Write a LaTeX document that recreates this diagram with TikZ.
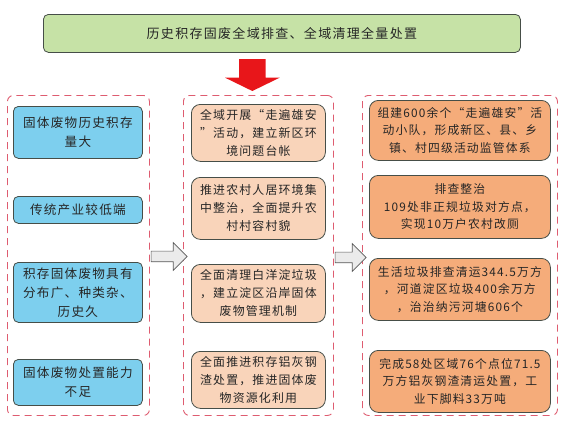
\documentclass[tikz,border=0pt]{standalone}
\usepackage{fontspec}
\setmainfont{Noto Sans CJK SC}[LetterSpace=10]
\usetikzlibrary{shapes.arrows, calc}

\definecolor{topgreen}{RGB}{198,226,166}
\definecolor{causeblue}{RGB}{125,207,238}
\definecolor{measurepeach}{RGB}{249,212,186}
\definecolor{resultorange}{RGB}{245,172,122}
\definecolor{framered}{RGB}{222,92,112}
\definecolor{arrowred}{RGB}{232,22,26}
\definecolor{boxline}{RGB}{70,78,72}

\begin{document}
\begin{tikzpicture}[
    x=1pt, y=-1pt,
    box/.style={draw=boxline, line width=0.8pt, anchor=north west, align=center, inner sep=0.5pt, text=black!85},
    headline/.style={box, fill=topgreen, rounded corners=5pt, minimum width=477pt, minimum height=38pt, font=\fontsize{13}{18}\selectfont},
    cause/.style={box, fill=causeblue, rounded corners=5pt, minimum width=129pt, text width=127pt, font=\fontsize{12.6}{19}\selectfont},
    measure/.style={box, fill=measurepeach, rounded corners=9pt, minimum width=134pt, text width=133pt, font=\fontsize{11.9}{18}\selectfont},
    result/.style={box, fill=resultorange, rounded corners=9pt, minimum width=181pt, text width=179pt, font=\fontsize{11.8}{17.5}\selectfont},
    frame/.style={draw=framered, dash pattern=on 7pt off 5pt, line width=0.9pt, rounded corners=6pt, anchor=north west, minimum height=320pt, inner sep=0pt},
    red arrow/.style={single arrow, shape border rotate=270, fill=arrowred, inner xsep=13pt, inner ysep=0pt, minimum width=54pt, single arrow head extend=14pt, single arrow tip angle=128, minimum height=32pt},
    hollow arrow/.style={single arrow, draw=black!65, fill=black!8, line width=0.7pt, inner xsep=0pt, inner ysep=5pt, single arrow head extend=8.5pt, single arrow tip angle=90}
]
\useasboundingbox (0,0) rectangle (563,423);

% --- Headline ---
\node[headline] (top) at (43,14) {历史积存固废全域排查、全域清理全量处置};

% --- Dashed frames of the three columns ---
\node[frame, minimum width=142pt] (lframe) at (7,95) {};
\node[frame, minimum width=150pt] (mframe) at (183,95) {};
\node[frame, minimum width=195pt] (rframe) at (362,95) {};

% --- Causes ---
\node[cause, minimum height=52pt] (l1) at (13,106) {固体废物历史积存\\量大};
\node[cause, minimum height=27pt] (l2) at (13,196) {传统产业较低端};
\node[cause, minimum height=60pt] (l3) at (13,262) {积存固体废物具有\\分布广、种类杂、\\历史久};
\node[cause, minimum height=46pt] (l4) at (13,359) {固体废物处置能力\\不足};

% --- Measures ---
\node[measure, minimum height=57pt] (m1) at (191,104) {全域开展“走遍雄安\\”活动，建立新区环\\境问题台帐};
\node[measure, minimum height=62pt] (m2) at (191,177) {推进农村人居环境集\\中整治，全面提升农\\村村容村貌};
\node[measure, minimum height=58pt] (m3) at (191,264) {全面清理白洋淀垃圾\\，建立淀区沿岸固体\\废物管理机制};
\node[measure, minimum height=57pt] (m4) at (191,351) {全面推进积存铝灰钢\\渣处置，推进固体废\\物资源化利用};

% --- Results ---
\node[result, minimum height=60pt] (r1) at (369,100) {组建600余个“走遍雄安”活\\动小队，形成新区、县、乡\\镇、村四级活动监管体系};
\node[result, minimum height=63pt] (r2) at (369,175) {排查整治\\109处非正规垃圾对方点，\\实现10万户农村改厕};
\node[result, minimum height=62pt] (r3) at (369,258) {生活垃圾排查清运344.5万方\\，河道淀区垃圾400余万方\\，治治纳污河塘606个};
\node[result, minimum height=62pt] (r4) at (369,350) {完成58处区域76个点位71.5\\万方铝灰钢渣清运处置，工\\业下脚料33万吨};

% --- Block arrows between the parts ---
\node[red arrow] (down) at ($(top.south)!0.45!(mframe.north) + (-19,0)$) {};
\node[hollow arrow, minimum height=36pt] (a1) at ($(lframe.east)!0.5!(mframe.west) + (0,1)$) {};
\node[hollow arrow, minimum height=31pt] (a2) at ($(mframe.east)!0.5!(rframe.west) + (0,2)$) {};

\end{tikzpicture}
\end{document}
